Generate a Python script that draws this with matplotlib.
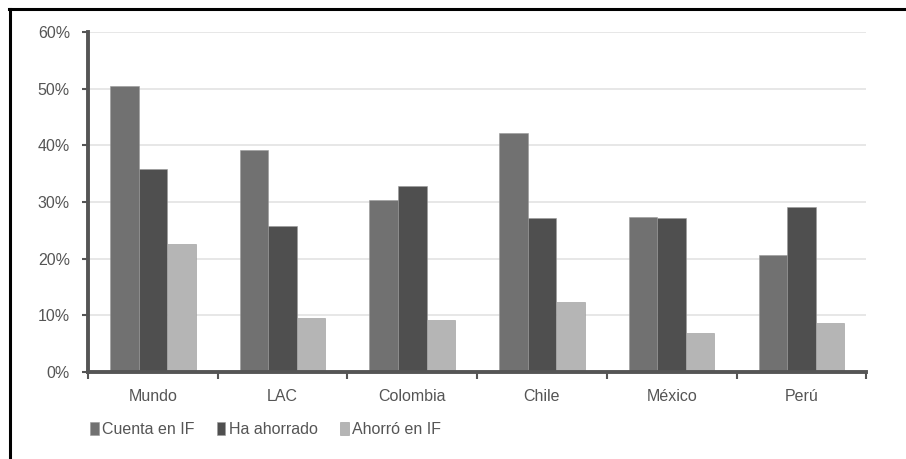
import numpy as np
import matplotlib
matplotlib.use("Agg")
import matplotlib.pyplot as plt
from matplotlib.lines import Line2D

# Población adulta: cuentas y ahorro (% de adultos)
paises = ["Mundo", "LAC", "Colombia", "Chile", "México", "Perú"]
cuenta_if = [50.4, 39.2, 30.4, 42.2, 27.4, 20.7]
ha_ahorrado = [35.8, 25.7, 32.9, 27.2, 27.2, 29.1]
ahorro_if = [22.5, 9.5, 9.2, 12.4, 6.8, 8.7]

series = ["Cuenta en IF", "Ha ahorrado", "Ahorró en IF"]
colores = ["#717171", "#4f4f4f", "#b5b5b5"]

plt.rcParams["font.family"] = ["Liberation Sans Narrow", "Liberation Sans", "DejaVu Sans"]

fig = plt.figure(figsize=(9.06, 4.59), dpi=100)
ax = fig.add_axes([0.0971, 0.1895, 0.8590, 0.7410])

x = np.arange(len(paises))
ancho = 0.22
for i, (vals, nombre, c) in enumerate(zip([cuenta_if, ha_ahorrado, ahorro_if], series, colores)):
    ax.bar(x + (i - 1) * ancho, vals, width=ancho, color=c, label=nombre,
           edgecolor="#9a9a9a", linewidth=0.4, zorder=2)

ax.set_xlim(-0.5, len(paises) - 0.5)
ax.set_ylim(0, 60)
ax.set_yticks(np.arange(0, 61, 10))
ax.set_yticklabels([f"{v}%" for v in range(0, 61, 10)])
ax.set_xticks(x)
ax.set_xticklabels(paises)
ax.set_xticks(np.arange(-0.5, len(paises)), minor=True)

ax.grid(axis="y", color="#e3e3e3", linewidth=1.2, zorder=0)
ax.set_axisbelow(True)

for s in ["top", "right"]:
    ax.spines[s].set_visible(False)
for s in ["left", "bottom"]:
    ax.spines[s].set_color("#555555")
    ax.spines[s].set_linewidth(2.8)

ax.tick_params(axis="x", which="major", length=0, pad=12, labelsize=11.5, labelcolor="#555555")
ax.tick_params(axis="x", which="minor", length=5, width=1.5, color="#555555", direction="out")
ax.tick_params(axis="y", length=4, width=1.5, color="#555555", pad=9, labelsize=11.5,
               labelcolor="#555555")

leg = fig.legend(loc="center left", bbox_to_anchor=(0.092, 0.065), ncol=3, frameon=False,
                 handlelength=0.55, handleheight=0.9, handletextpad=0.2, columnspacing=1.4,
                 fontsize=11.5, borderaxespad=0)
for t in leg.get_texts():
    t.set_color("#555555")

# marco negro superior e izquierdo
fig.add_artist(Line2D([9.5 / 906, 9.5 / 906], [0, 1 - 9 / 459], color="black", linewidth=2.2,
                      transform=fig.transFigure))
fig.add_artist(Line2D([8.5 / 906, 1], [1 - 9 / 459, 1 - 9 / 459], color="black", linewidth=2.2,
                      transform=fig.transFigure))

fig.savefig("out.png", dpi=100)
